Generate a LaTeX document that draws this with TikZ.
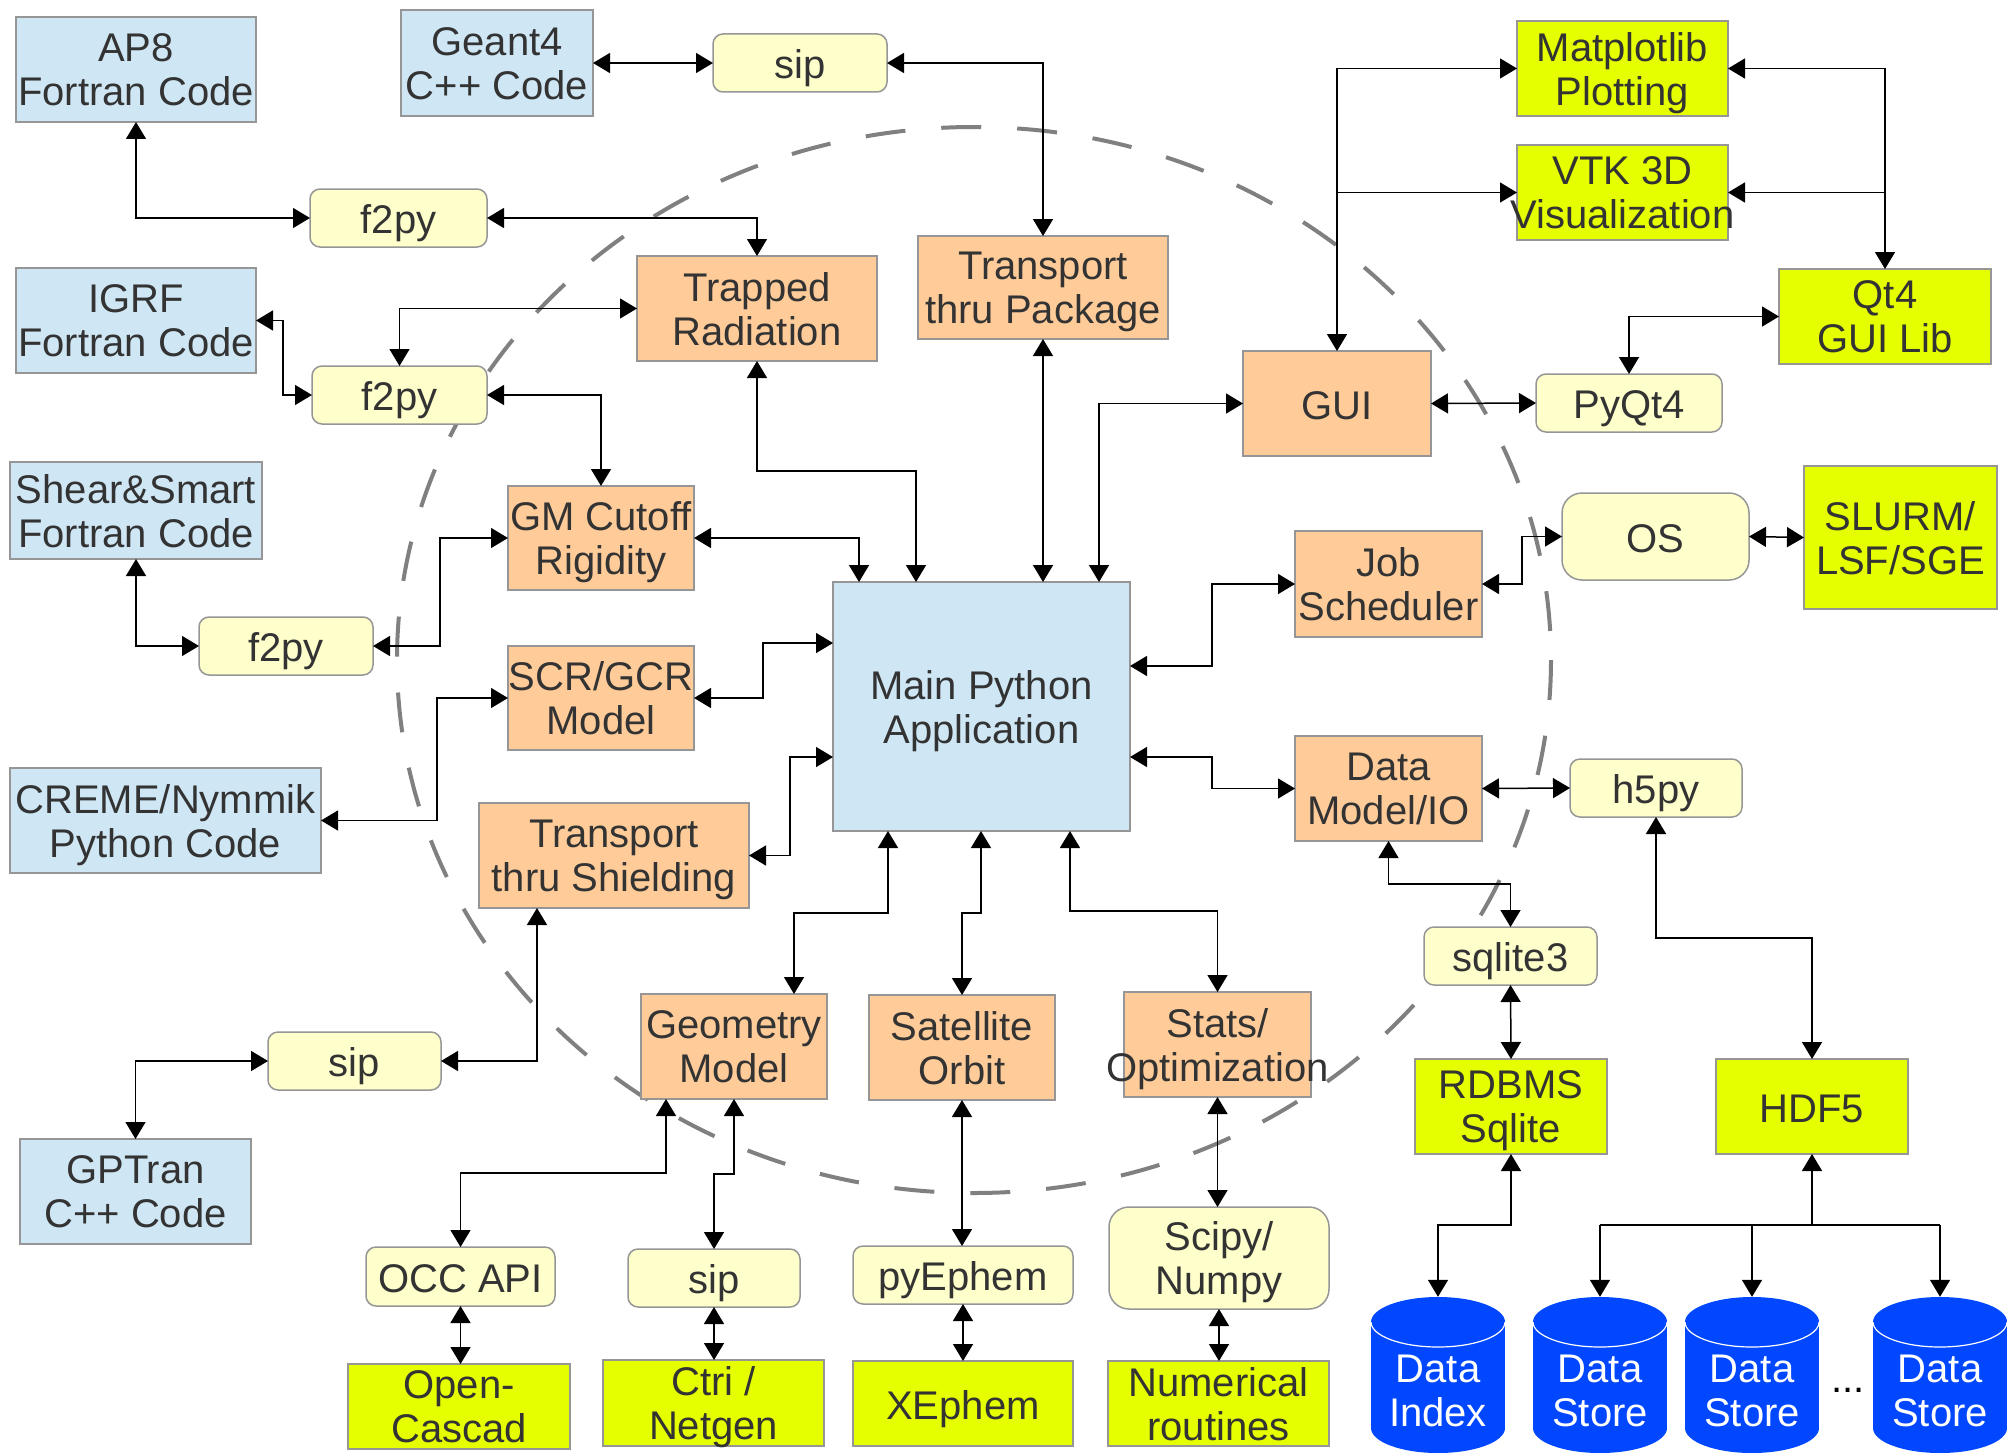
\documentclass[tikz,border=0pt]{standalone}
\usepackage{fontspec}
\setmainfont{Liberation Sans}
\usetikzlibrary{arrows.meta,calc}
\definecolor{lblue}{RGB}{207,231,245}
\definecolor{lorange}{RGB}{255,204,153}
\definecolor{lyellow}{RGB}{255,255,204}
\definecolor{ygreen}{RGB}{230,255,0}
\definecolor{bgray}{RGB}{150,150,150}
\definecolor{tgray}{RGB}{51,51,51}
\definecolor{cylblue}{RGB}{0,71,255}
\definecolor{egray}{RGB}{128,128,128}
\tikzset{
  box/.style={draw=bgray, line width=1.5pt, inner sep=0pt, outer sep=0pt},
  bluebox/.style={box, fill=lblue},
  orbox/.style={box, fill=lorange},
  ylbox/.style={box, fill=lyellow, rounded corners=10pt},
  ylbig/.style={box, fill=lyellow, rounded corners=20pt},
  grbox/.style={box, fill=ygreen},
  lbl/.style={align=center, text=tgray, font=\fontsize{40}{44}\selectfont, inner sep=0pt,
    execute at begin node=\strut, execute at end node=\strut, yshift=-7pt},
  conn/.style={line width=1.5pt, draw=black, <->},
  oneway/.style={line width=1.5pt, draw=black, ->},
  plain/.style={line width=1.5pt, draw=black},
  >={Triangle[length=17pt,width=20pt]}
}
\newcommand\mybox[7]{%
  \node[#1, minimum width=#5pt, minimum height=#6pt] (#2) at (#3,#4) {};
  \node[lbl] (#2-t) at (#2.center) {#7};
}
\newcommand\mycyl[3]{%
  \fill[cylblue] (#2,1322) ellipse [x radius=67, y radius=25];
  \fill[cylblue] (#2-67,1322) rectangle (#2+67,1428);
  \fill[cylblue] (#2,1428) ellipse [x radius=67, y radius=25];
  \begin{scope}
    \clip (#2-70,1322) rectangle (#2+70,1352);
    \draw[white, line width=1.2pt] (#2,1322) ellipse [x radius=67, y radius=25];
  \end{scope}
  \node[inner sep=0pt, minimum width=134pt, minimum height=150pt] (#1) at (#2,1372) {};
  \node[lbl, text=white] (#1-t) at (#2,1390) {Data\\#3};
}
\begin{document}
\begin{tikzpicture}[x=1pt,y=-1pt]
\useasboundingbox (0,0) rectangle (2007,1453);
\fill[white] (0,0) rectangle (2007,1453);

% dashed ellipse
\draw[egray, line width=4pt, dash pattern=on 40pt off 36pt] (974,660) ellipse [x radius=577, y radius=533];

% blue boxes
\mybox{bluebox}{ap8}{136}{69.5}{240}{105}{AP8\\Fortran Code}
\mybox{bluebox}{geant}{497}{63}{192}{106}{Geant4\\C++ Code}
\mybox{bluebox}{igrf}{136}{320.5}{240}{105}{IGRF\\Fortran Code}
\mybox{bluebox}{shear}{136}{510.5}{252}{97}{Shear\&Smart\\Fortran Code}
\mybox{bluebox}{creme}{165.5}{820.5}{311}{105}{CREME/Nymmik\\Python Code}
\mybox{bluebox}{gptran}{135.5}{1191.5}{231}{105}{GPTran\\C++ Code}
\mybox{bluebox}{main}{981.5}{706.5}{297}{249}{Main Python\\Application}

% light yellow rounded
\mybox{ylbox}{f2py1}{398.5}{218}{177}{58}{f2py}
\mybox{ylbox}{f2py2}{399.5}{395}{175}{58}{f2py}
\mybox{ylbox}{f2py3}{286}{646}{174}{58}{f2py}
\mybox{ylbox}{sip1}{800}{63}{174}{58}{sip}
\mybox{ylbox}{sip3}{354.5}{1061}{173}{58}{sip}
\mybox{ylbox}{sip2}{714}{1278}{172}{58}{sip}
\mybox{ylbox}{occ}{460.5}{1276.5}{189}{59}{OCC API}
\mybox{ylbox}{pyephem}{963}{1275}{220}{58}{pyEphem}
\mybox{ylbig}{scipy}{1219}{1258}{220}{102}{Scipy/\\Numpy}
\mybox{ylbox}{pyqt}{1629}{403}{186}{58}{PyQt4}
\mybox{ylbig}{os}{1655.5}{536.5}{187}{87}{OS}
\mybox{ylbox}{h5py}{1656}{788}{172}{58}{h5py}
\mybox{ylbox}{sqlite}{1510.5}{956}{173}{58}{sqlite3}

% orange
\mybox{orbox}{trapped}{757}{308.5}{240}{105}{Trapped\\Radiation}
\mybox{orbox}{tpkg}{1043}{287.5}{250}{103}{Transport\\thru Package}
\mybox{orbox}{gm}{601}{538}{186}{104}{GM Cutoff\\Rigidity}
\mybox{orbox}{scr}{601}{698}{186}{104}{SCR/GCR\\Model}
\mybox{orbox}{tshield}{614}{855.5}{270}{105}{Transport\\thru Shielding}
\mybox{orbox}{gui}{1337}{403.5}{188}{105}{GUI}
\mybox{orbox}{job}{1388.5}{584}{187}{106}{Job\\Scheduler}
\mybox{orbox}{dm}{1388.5}{788.5}{187}{105}{Data\\Model/IO}
\mybox{orbox}{geom}{734}{1046.5}{186}{105}{Geometry\\Model}
\mybox{orbox}{sat}{962}{1047.5}{186}{105}{Satellite\\Orbit}
\mybox{orbox}{stats}{1217.5}{1044.5}{187}{105}{Stats/\\Optimization}

% yellow-green
\mybox{grbox}{mpl}{1622.5}{68.5}{211}{95}{Matplotlib\\Plotting}
\mybox{grbox}{vtk}{1622.5}{192.5}{211}{95}{VTK 3D\\Visualization}
\mybox{grbox}{qt4}{1885}{316.5}{212}{95}{Qt4\\GUI Lib}
\mybox{grbox}{slurm}{1900.5}{537.5}{193}{143}{SLURM/\\LSF/SGE}
\mybox{grbox}{rdbms}{1511}{1106.5}{192}{95}{RDBMS\\Sqlite}
\mybox{grbox}{hdf5}{1812}{1106.5}{192}{95}{HDF5}
\mybox{grbox}{opencascad}{459}{1406.5}{222}{85}{Open-\\Cascad}
\mybox{grbox}{ctri}{713.5}{1403}{221}{86}{Ctri /\\Netgen}
\mybox{grbox}{xephem}{963}{1403.5}{220}{85}{XEphem}
\mybox{grbox}{numerical}{1218.5}{1403.5}{221}{85}{Numerical\\routines}

% cylinders
\mycyl{di}{1438}{Index}
\mycyl{ds1}{1600}{Store}
\mycyl{ds2}{1752}{Store}
\mycyl{ds3}{1940}{Store}
\node[text=black, font=\fontsize{40}{44}\selectfont, inner sep=0pt, anchor=base] (dots) at (1848,1392) {...};

% anchor points on boxes
\coordinate (mT1) at ($(main.north west)+(26,0)$);
\coordinate (mT2) at ($(main.north west)+(83,0)$);
\coordinate (mT4) at ($(main.north west)+(266,0)$);
\coordinate (mL1) at ($(main.north west)+(0,61)$);
\coordinate (mL2) at ($(main.north west)+(0,175)$);
\coordinate (mR1) at ($(main.north east)+(0,84)$);
\coordinate (mR2) at ($(main.north east)+(0,175)$);
\coordinate (mB1) at ($(main.south west)+(55,0)$);
\coordinate (mB2) at ($(main.south west)+(148,0)$);
\coordinate (mB3) at ($(main.south west)+(237,0)$);
\coordinate (geomT) at ($(geom.north)+(60,0)$);
\coordinate (geomB1) at ($(geom.south)+(-68,0)$);
\coordinate (tsB) at ($(tshield.south)+(-77,0)$);

% connectors
\draw[conn] (ap8.south) |- (f2py1.west);
\draw[conn] (geant.east) -- (sip1.west);
\draw[conn] (sip1.east) -| (tpkg.north);
\draw[conn] (f2py1.east) -| (trapped.north);
\draw[conn] (igrf.east) -- ++(27,0) |- (f2py2.west);
\draw[conn] (f2py2.north) |- (trapped.west);
\draw[conn] (f2py2.east) -| (gm.north);
\draw[conn] (shear.south) |- (f2py3.west);
\draw[conn] (f2py3.east) -- ++(67,0) |- (gm.west);
\draw[conn] (scr.west) -- ++(-71,0) |- (creme.east);
\draw[conn] (gm.east) -| (mT1);
\draw[conn] (trapped.south) -- ++(0,110) -| (mT2);
\draw[conn] (tpkg.south) -- (tpkg.south |- main.north);
\draw[conn] (mT4) |- (gui.west);
\draw[conn] (scr.east) -- ++(69,0) |- (mL1);
\draw[conn] (tshield.east) -- ++(41,0) |- (mL2);
\draw[conn] (job.west) -- ++(-83,0) |- (mR1);
\draw[conn] (dm.west) -- ++(-83,0) |- (mR2);
\draw[conn] (mB1) -- ++(0,82) -| (geomT);
\draw[conn] (mB2) -- ++(0,82) -| (sat.north);
\draw[conn] (mB3) -- ++(0,80) -| (stats.north);
\draw[conn] (sip3.east) -| (tsB);
\draw[conn] (sip3.west) -| (gptran.north);
\draw[conn] (geomB1) -- ++(0,74) -| (occ.north);
\draw[conn] (geom.south) -- ++(0,75) -| (sip2.north);
\draw[conn] (sat.south) -- (sat.south |- pyephem.north);
\draw[conn] (stats.south) -- (stats.south |- scipy.north);
\draw[conn] (occ.south) -- (occ.south |- opencascad.north);
\draw[conn] (sip2.south) -- (sip2.south |- ctri.north);
\draw[conn] (pyephem.south) -- (pyephem.south |- xephem.north);
\draw[conn] (scipy.south) -- (scipy.south |- numerical.north);
\draw[conn] (gui.north) |- (mpl.west);
\draw[oneway] (gui.north |- vtk.west) -- (vtk.west);
\draw[conn] (qt4.north) |- (mpl.east);
\draw[oneway] (qt4.north |- vtk.east) -- (vtk.east);
\draw[conn] (qt4.west) -| (pyqt.north);
\draw[conn] (gui.east) -- (pyqt.west);
\draw[conn] (job.east) -- ++(40,0) |- (os.west);
\draw[conn] (os.east) -- (slurm.west);
\draw[conn] (dm.east) -- (h5py.west);
\draw[conn] (dm.south) -- ++(0,43) -| (sqlite.north);
\draw[conn] (h5py.south) -- ++(0,121) -| (hdf5.north);
\draw[conn] (sqlite.south) -- (rdbms.north);
\draw[conn] (rdbms.south) -- ++(0,71) -| (di.north);
\draw[oneway, <-] (hdf5.south) -- ++(0,71) coordinate (hj);
\draw[plain] (ds1.north |- hj) -- (ds3.north |- hj);
\draw[oneway] (ds1.north |- hj) -- (ds1.north);
\draw[oneway] (ds2.north |- hj) -- (ds2.north);
\draw[oneway] (ds3.north |- hj) -- (ds3.north);
\end{tikzpicture}
\end{document}
